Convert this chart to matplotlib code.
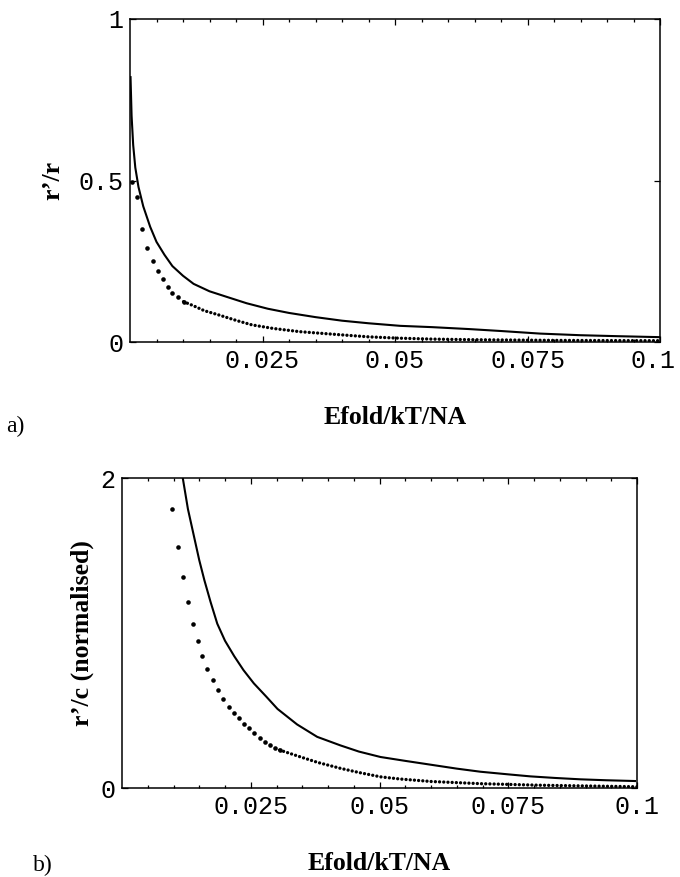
import numpy as np
import matplotlib
matplotlib.use("Agg")
import matplotlib.pyplot as plt
from matplotlib.transforms import ScaledTranslation

# panel a) : r'/r against Efold/kT/NA
a_solid_x = [0.0001, 0.0003, 0.0006, 0.001, 0.0016, 0.0025, 0.0038, 0.005, 0.0065, 0.008,
             0.010, 0.012, 0.015, 0.0182, 0.022, 0.026, 0.030, 0.035, 0.040, 0.045,
             0.051, 0.057, 0.064, 0.070, 0.0774, 0.085, 0.092, 0.1]
a_solid_y = [0.82, 0.70, 0.61, 0.54, 0.48, 0.42, 0.357, 0.31, 0.27, 0.235,
             0.205, 0.18, 0.157, 0.14, 0.12, 0.103, 0.09, 0.077, 0.066, 0.058,
             0.05, 0.046, 0.040, 0.034, 0.026, 0.021, 0.018, 0.015]
a_dot_x = [0.0004, 0.0013, 0.0023, 0.0033, 0.0043, 0.0053, 0.0062, 0.0071, 0.008, 0.009,
           0.0101, 0.012, 0.014, 0.0167, 0.020, 0.023, 0.027, 0.032, 0.036, 0.040,
           0.045, 0.0505, 0.057, 0.065, 0.080, 0.1]
a_dot_y = [0.496, 0.45, 0.35, 0.292, 0.251, 0.22, 0.194, 0.171, 0.153, 0.138,
           0.125, 0.112, 0.097, 0.084, 0.067, 0.053, 0.042, 0.032, 0.027, 0.022,
           0.016, 0.012, 0.009, 0.007, 0.005, 0.004]
a_head = 11  # dots that stand apart on the steep part

# panel b) : r'/c (normalised)
b_solid_x = [0.0118, 0.0128, 0.014, 0.015, 0.016, 0.0172, 0.0185, 0.020, 0.0218, 0.0236,
             0.0256, 0.028, 0.0302, 0.034, 0.0379, 0.0424, 0.046, 0.0502, 0.055, 0.060,
             0.065, 0.0696, 0.075, 0.0793, 0.084, 0.089, 0.094, 0.0996]
b_solid_y = [2.0, 1.80, 1.62, 1.47, 1.34, 1.20, 1.06, 0.95, 0.85, 0.76,
             0.675, 0.59, 0.51, 0.41, 0.33, 0.275, 0.235, 0.2, 0.175, 0.15,
             0.125, 0.105, 0.088, 0.075, 0.065, 0.056, 0.05, 0.045]
b_dot_x = [0.0098, 0.0108, 0.0118, 0.0128, 0.0137, 0.0147, 0.0156, 0.0166, 0.0177, 0.0187,
           0.0197, 0.0207, 0.0218, 0.0227, 0.0237, 0.0247, 0.0256, 0.0267, 0.0277, 0.0287,
           0.0297, 0.0306, 0.0347, 0.038, 0.0424, 0.046, 0.0502, 0.054, 0.060, 0.0696,
           0.081, 0.1]
b_dot_y = [1.80, 1.557, 1.36, 1.20, 1.06, 0.95, 0.854, 0.768, 0.697, 0.632,
           0.572, 0.525, 0.486, 0.45, 0.413, 0.385, 0.353, 0.32, 0.30, 0.277,
           0.26, 0.245, 0.20, 0.165, 0.127, 0.10, 0.072, 0.058, 0.042, 0.028,
           0.018, 0.008]
b_head = 22

x_ticks = [0.025, 0.05, 0.075, 0.1]
x_labels = ["0.025", "0.05", "0.075", "0.1"]
a_yticks = [0, 0.5, 1]
a_ylabels = ["0", "0.5", "1"]
b_yticks = [0, 2]
b_ylabels = ["0", "2"]

mono = "Liberation Mono"
serif = "Liberation Serif"

fig = plt.figure(figsize=(6.8, 8.77), dpi=100)
ax1 = fig.add_axes([130/680, 1-342/877, 530/680, 323/877])
ax2 = fig.add_axes([122/680, 1-788/877, 515/680, 310/877])


def style(ax, ymax, yt, yl, ylab, lpad):
    ax.set_xlim(0, 0.1)
    ax.set_ylim(0, ymax)
    ax.set_xticks(x_ticks)
    ax.set_xticklabels(x_labels, family=mono, fontsize=18)
    ax.set_yticks(yt)
    ax.set_yticklabels(yl, family=mono, fontsize=18)
    ax.set_xticks(np.arange(0.005, 0.1, 0.005), minor=True)
    ax.tick_params(which="both", direction="in", top=True, right=True, width=0.9)
    ax.tick_params(which="major", length=4, pad=5)
    ax.tick_params(which="minor", length=2)
    for s in ax.spines.values():
        s.set_linewidth(1.1)
    ax.set_ylabel(ylab, family=serif, fontweight="bold", fontsize=18.5, labelpad=lpad)
    ax.set_xlabel("Efold/kT/NA", family=serif, fontweight="bold", fontsize=18.5, labelpad=24)


def draw(ax, sx, sy, dx, dy, head):
    ax.plot(sx, sy, color="black", lw=1.5)
    ax.plot(dx[:head], dy[:head], "o", color="black", ms=3.3, mew=0)
    ax.plot(dx[head - 1:], dy[head - 1:], color="black", lw=2.4,
            ls=(0, (0.01, 1.25)), dash_capstyle="round")


draw(ax1, a_solid_x, a_solid_y, a_dot_x, a_dot_y, a_head)
draw(ax2, b_solid_x, b_solid_y, b_dot_x, b_dot_y, b_head)
style(ax1, 1, a_yticks, a_ylabels, "r\u2019/r", 10)
style(ax2, 2, b_yticks, b_ylabels, "r\u2019/c (normalised)", 4)

# keep the last tick label of the top panel inside the page
last = ax1.get_xticklabels()[-1]
last.set_transform(last.get_transform() + ScaledTranslation(-5/72, 0, fig.dpi_scale_trans))

fig.text(15/680, 1-426/877, "a)", family=serif, fontsize=17, ha="center", va="center")
fig.text(43/680, 1-865/877, "b)", family=serif, fontsize=17, ha="center", va="center")

fig.savefig("out.png", dpi=100)
